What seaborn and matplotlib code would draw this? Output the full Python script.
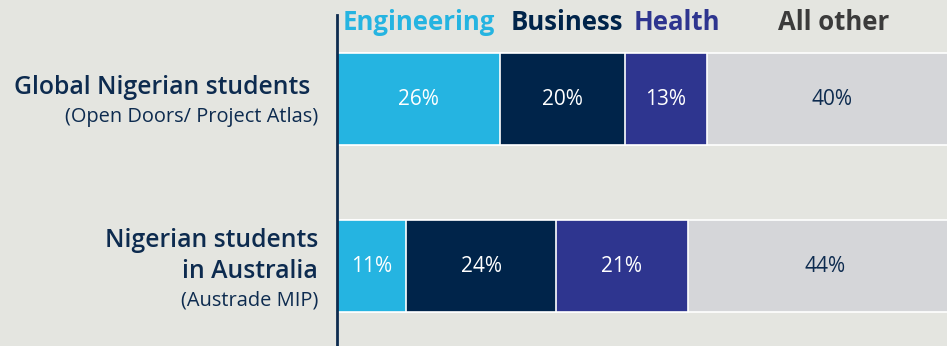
import matplotlib
matplotlib.use("Agg")
import matplotlib.pyplot as plt
import matplotlib.transforms as mtransforms
import numpy as np
import pandas as pd
import seaborn as sns

# Field-of-study shares for Nigerian students
fields = ["Engineering", "Business", "Health", "All other"]
groups = ["Global", "Australia"]
global_share = [26, 20, 13, 40]
australia_share = [11, 24, 21, 44]

group_titles = [["Global Nigerian students"], ["Nigerian students", "in Australia"]]
group_sources = ["(Open Doors/ Project Atlas)", "(Austrade MIP)"]

field_colors = ["#25b4e1", "#00244a", "#2e358f", "#d5d6d9"]
header_colors = ["#25b4e1", "#00244a", "#2e358f", "#3b3b3b"]
value_text_colors = ["white", "white", "white", "#0d2b4f"]

bg = "#e4e5e0"
navy = "#0d2b4f"

sns.set_theme(style="white")
plt.rcParams["font.family"] = ["Open Sans", "DejaVu Sans"]

shares = np.array([global_share, australia_share], dtype=float)
cum = np.cumsum(shares, axis=1)

fig = plt.figure(figsize=(9.47, 3.46), dpi=100, facecolor=bg)
ax = fig.add_axes([337 / 947, 0, 1 - 337 / 947, 1 - 15 / 346])
ax.set_facecolor(bg)

# Stacked bars: draw cumulative totals from the outermost segment inward
for k in range(len(fields) - 1, -1, -1):
    df = pd.DataFrame({"group": groups, "end": cum[:, k]})
    sns.barplot(data=df, x="end", y="group", orient="h", color=field_colors[k],
                width=0.55, edgecolor="white", linewidth=1.2, saturation=1,
                ax=ax, zorder=2 + (len(fields) - k))

ax.set_xlim(0, 97.4)
ax.set_ylim(1.479, -0.503)

for i in range(len(groups)):
    starts = cum[i] - shares[i]
    for k in range(len(fields)):
        cx = starts[k] + shares[i, k] / 2
        ax.text(cx, i, f"{shares[i, k]:.0f}%", ha="center", va="center",
                color=value_text_colors[k], fontsize=15, zorder=10)

# Field headers over the first bar's segments, nudged apart so they don't touch
hdr_tr = mtransforms.blended_transform_factory(ax.transData, fig.transFigure)
hdr_nudge_px = [0, 4, 11, 2]
starts0 = cum[0] - shares[0]
for k, name in enumerate(fields):
    cx = starts0[k] + shares[0, k] / 2
    tr = hdr_tr + mtransforms.ScaledTranslation(hdr_nudge_px[k] / 100, 0,
                                                fig.dpi_scale_trans)
    ax.text(cx, 1 - 30 / 346, name, transform=tr, ha="center", va="baseline",
            color=header_colors[k], fontsize=18.5, fontweight="bold", clip_on=False)

# Group labels to the left of the axis
lab_tr = mtransforms.blended_transform_factory(fig.transFigure, ax.transData)
px = 1 / 167.0
ax.text(310 / 947, 0 - 12 * px, group_titles[0][0], transform=lab_tr, ha="right",
        va="center", color=navy, fontsize=17.8, fontweight="semibold")
ax.text(318 / 947, 0 + 18 * px, group_sources[0], transform=lab_tr, ha="right",
        va="center", color=navy, fontsize=14.4)
ax.text(318 / 947, 1 - 26 * px, group_titles[1][0], transform=lab_tr, ha="right",
        va="center", color=navy, fontsize=17.8, fontweight="semibold")
ax.text(318 / 947, 1 + 5 * px, group_titles[1][1], transform=lab_tr, ha="right",
        va="center", color=navy, fontsize=17.8, fontweight="semibold")
ax.text(318 / 947, 1 + 34 * px, group_sources[1], transform=lab_tr, ha="right",
        va="center", color=navy, fontsize=14.4)

ax.set_xlabel("")
ax.set_ylabel("")
ax.set_xticks([])
ax.set_yticks([])
for side in ["top", "right", "bottom"]:
    ax.spines[side].set_visible(False)
ax.spines["left"].set_color("#0d2b4f")
ax.spines["left"].set_linewidth(2)
ax.spines["left"].set_zorder(20)

fig.savefig("out.png", dpi=100, facecolor=bg)
